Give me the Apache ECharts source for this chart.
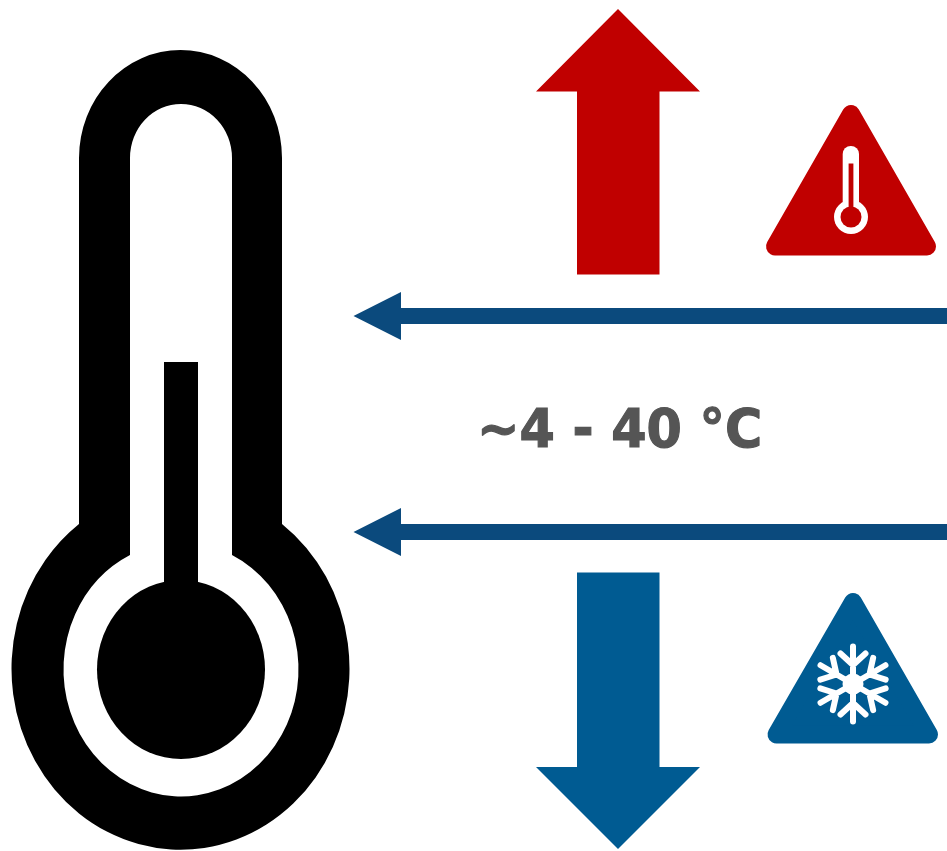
<!DOCTYPE html>
<html>
<head>
<meta charset="utf-8">
<style>html,body{margin:0;padding:0;background:#fff}#chart{width:947px;height:851px}</style>
<script src="https://cdn.jsdelivr.net/npm/echarts@6/dist/echarts.min.js"></script>
</head>
<body>
<div id="chart"></div>
<script>
// Temperature limits shown in the figure (°C)
const lowTemp = 4;
const highTemp = 40;
const rangeLabel = '~' + lowTemp + ' - ' + highTemp + ' °C';
const limitTemps = [highTemp, lowTemp];
const arrowTipX = 353.5;

const RED = '#c00000', BLUE = '#005b92', NAVY = '#0b4a7d', BLACK = '#000000', WHITE = '#ffffff', GREY = '#555555';

function path(d, fill) {
  return { type: 'path', shape: { pathData: d }, style: { fill: fill } };
}
function ell(cx, cy, rx, ry, fill) {
  return path('M' + (cx - rx) + ' ' + cy + 'A' + rx + ' ' + ry + ' 0 1 1 ' + (cx + rx) + ' ' + cy +
              'A' + rx + ' ' + ry + ' 0 1 1 ' + (cx - rx) + ' ' + cy + 'Z', fill);
}
function tri(points, color) {
  return { type: 'polygon', shape: { points: points },
    style: { fill: color, stroke: color, lineWidth: 18, lineJoin: 'round' } };
}
function snowflake(cx, cy) {
  let d = '';
  const rot = (x, y, a) => [cx + x * Math.cos(a) - y * Math.sin(a), cy + x * Math.sin(a) + y * Math.cos(a)];
  const seg = (x1, y1, x2, y2, a) => {
    const p = rot(x1, y1, a), q = rot(x2, y2, a);
    d += 'M' + p[0].toFixed(2) + ' ' + p[1].toFixed(2) + 'L' + q[0].toFixed(2) + ' ' + q[1].toFixed(2);
  };
  for (let i = 0; i < 6; i++) {
    const a = i * Math.PI / 3;
    seg(0, 0, 0, -37.5, a);
    seg(0, -19, -12.5, -30.5, a);
    seg(0, -19, 12.5, -30.5, a);
  }
  return [
    { type: 'path', shape: { pathData: d },
      style: { fill: 'none', stroke: WHITE, lineWidth: 6, lineCap: 'round', lineJoin: 'round' } },
    { type: 'circle', shape: { cx: cx, cy: cy, r: 10.5 }, style: { fill: WHITE } }
  ];
}

const pictograms = [
  // thermometer
  path('M79 524L79 158A101.5 108 0 0 1 282 158L282 524A169 181 0 1 1 79 524Z', BLACK),
  path('M130 555L130 158A51 54 0 0 1 232 158L232 555A117.5 127 0 1 1 130 555Z', WHITE),
  { type: 'rect', shape: { x: 164, y: 362, width: 34, height: 240 }, style: { fill: BLACK } },
  ell(181, 669.5, 84, 89.5, BLACK),
  // up / down arrows
  path('M618 9L700 91.5L659.5 91.5L659.5 274.5L577 274.5L577 91.5L536 91.5Z', RED),
  path('M618 849L700 767L659.5 767L659.5 572.5L577 572.5L577 767L536 767Z', BLUE),
  // hot warning triangle
  tri([[851, 114], [775, 246.5], [927, 246.5]], RED),
  { type: 'rect', shape: { x: 842.7, y: 146, width: 16.3, height: 70, r: [8, 8, 0, 0] }, style: { fill: WHITE } },
  { type: 'circle', shape: { cx: 851, cy: 217, r: 17 }, style: { fill: WHITE } },
  { type: 'circle', shape: { cx: 851, cy: 217, r: 10.5 }, style: { fill: RED } },
  { type: 'rect', shape: { x: 848.6, y: 163.5, width: 4.8, height: 50 }, style: { fill: RED } },
  // cold warning triangle
  tri([[853, 602], [776.5, 734.5], [929, 734.5]], BLUE)
].concat(snowflake(853, 684));

const chart = echarts.init(document.getElementById('chart'), null, { renderer: 'canvas' });
chart.setOption({
  animation: false,
  backgroundColor: '#ffffff',
  grid: { left: 0, top: 4, width: 947, height: 846 },
  xAxis: { type: 'value', min: 0, max: 947, show: false },
  yAxis: { type: 'value', min: -49, max: 92, show: false },
  graphic: { elements: [
    { type: 'text', silent: true, x: 477, y: 433, scaleX: 0.94,
      style: { text: rangeLabel, fill: GREY, stroke: GREY, lineWidth: 1.2, font: 'bold 54px "DejaVu Sans"', verticalAlign: 'middle', align: 'left' } }
  ] },
  series: [{
    type: 'custom',
    silent: true,
    clip: false,
    coordinateSystem: 'cartesian2d',
    encode: { x: 0, y: 1 },
    data: limitTemps.map(t => [arrowTipX, t]),
    renderItem: function (params, api) {
      const tip = api.coord([api.value(0), api.value(1)]);
      const right = api.coord([947, api.value(1)])[0];
      const x = tip[0], y = tip[1], b = x + 47.5;
      return {
        type: 'polygon',
        shape: { points: [[x, y], [b, y - 24], [b, y - 8], [right, y - 8], [right, y + 8], [b, y + 8], [b, y + 24]] },
        style: { fill: NAVY }
      };
    }
  }, {
    type: 'custom',
    silent: true,
    clip: false,
    coordinateSystem: 'none',
    data: [0],
    renderItem: function () {
      return { type: 'group', children: pictograms };
    }
  }]
});
</script>
</body>
</html>
